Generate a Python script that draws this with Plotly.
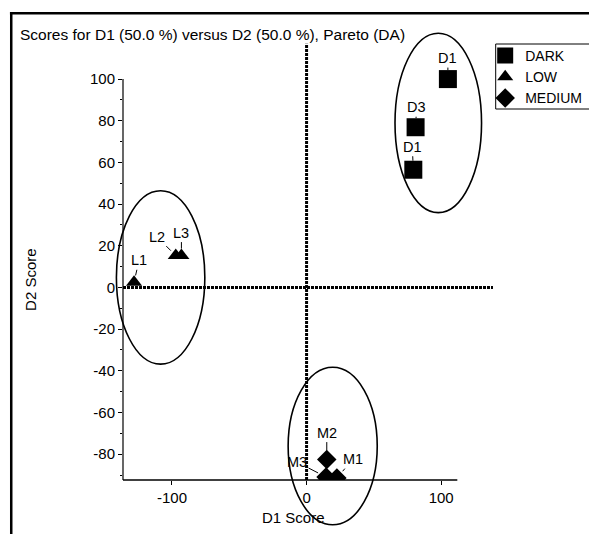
import plotly.graph_objects as go

# ---- data ----
dark_x = [105, 81, 79.3]
dark_y = [100, 76.9, 56.5]
dark_lbl = ["D1", "D3", "D1"]

low_x = [-128.2, -97.2, -93.0]
low_y = [2.5, 15.3, 15.3]
low_lbl = ["L1", "L2", "L3"]

med_x = [22.5, 15.0, 14.5]
med_y = [-91.5, -82.6, -91.0]
med_lbl = ["M1", "M2", "M3"]

y_ticks = [-80, -60, -40, -20, 0, 20, 40, 60, 80, 100]
x_ticks = [-100, 0, 100]

# group ellipses (x0, x1, y0, y1) in score units
ellipses = [(65.7, 130.0, 35.9, 122.0), (-141.3, -75.6, -36.8, 46.4), (-13.7, 52.5, -113.9, -38.3)]

X_RANGE = [-136.4, 140.0]
Y_RANGE = [-92.4, 125.0]
OFF = 8  # page body margin compensation
W, H = 597 - OFF, 534 - OFF
L, T = 123 - OFF, 27 - OFF
PW, PH = 371.8, 453.0
R = W - L - PW
B = H - T - PH
FONT = "Liberation Sans, Arial, sans-serif"


def px(x):
    return (x - X_RANGE[0]) / (X_RANGE[1] - X_RANGE[0])


def py(y):
    return (y - Y_RANGE[0]) / (Y_RANGE[1] - Y_RANGE[0])


def pgx(p):  # page pixel x -> paper
    return (p - OFF - L) / PW


def pgy(p):  # page pixel y -> paper
    return 1 - (p - OFF - T) / PH


fig = go.Figure()
fig.add_trace(go.Scatter(x=dark_x, y=dark_y, mode="markers", name="DARK",
                         marker=dict(symbol="square", size=18, color="black")))
fig.add_trace(go.Scatter(x=low_x, y=low_y, mode="markers", name="LOW",
                         marker=dict(symbol="triangle-up", size=14, color="black")))
fig.add_trace(go.Scatter(x=med_x, y=med_y, mode="markers", name="MEDIUM",
                         marker=dict(symbol="diamond", size=15, color="black")))

shapes = []
for (x0, x1, y0, y1) in ellipses:
    shapes.append(dict(type="circle", xref="paper", yref="paper",
                       x0=px(x0), x1=px(x1), y0=py(y0), y1=py(y1),
                       line=dict(color="black", width=1.6)))
# axis lines
shapes.append(dict(type="line", xref="paper", yref="paper", x0=px(-136.4), x1=px(-136.4),
                   y0=py(-92.4), y1=py(100), line=dict(color="black", width=1.2)))
shapes.append(dict(type="line", xref="paper", yref="paper", x0=px(-136.4), x1=px(112),
                   y0=py(-92.4), y1=py(-92.4), line=dict(color="black", width=1.5)))
# zero lines
shapes.append(dict(type="line", xref="paper", yref="paper", x0=px(-136.4), x1=px(138.5),
                   y0=py(0), y1=py(0), line=dict(color="black", width=3, dash="3px,1px")))
shapes.append(dict(type="line", xref="paper", yref="paper", x0=px(0), x1=px(0),
                   y0=py(-92.4), y1=py(117), line=dict(color="black", width=3, dash="3px,1px")))
# outer frame (top and left edges)
shapes.append(dict(type="line", xref="paper", yref="paper", x0=pgx(10), x1=pgx(620),
                   y0=pgy(13.3), y1=pgy(13.3), line=dict(color="black", width=2.5)))
shapes.append(dict(type="line", xref="paper", yref="paper", x0=pgx(11.3), x1=pgx(11.3),
                   y0=pgy(12), y1=pgy(560), line=dict(color="black", width=2.5)))
# legend border box
shapes.append(dict(type="rect", xref="paper", yref="paper", x0=pgx(495.5), x1=pgx(591.5),
                   y0=pgy(109), y1=pgy(44), line=dict(color="black", width=1)))

annotations = []
offsets = {
    "dark": [(0, -21), (1, -20), (-1, -23)],
    "low": [(5, -22), (-19, -19), (0, -23)],
    "med": [(16, -19), (0, -27), (-29, -15)],
}
for xs, ys, lbls, key, so in [(dark_x, dark_y, dark_lbl, "dark", 9),
                               (low_x, low_y, low_lbl, "low", 7),
                               (med_x, med_y, med_lbl, "med", 9)]:
    for x, y, t, (ax, ay) in zip(xs, ys, lbls, offsets[key]):
        annotations.append(dict(x=x, y=y, xref="x", yref="y", text=t, showarrow=True,
                                arrowhead=0, arrowwidth=1, arrowcolor="black", ax=ax, ay=ay,
                                standoff=so, font=dict(size=14.5, color="black", family=FONT)))

annotations.append(dict(text="Scores for D1 (50.0 %) versus D2 (50.0 %), Pareto (DA)",
                        xref="paper", yref="paper", x=pgx(18), y=pgy(35),
                        xanchor="left", yanchor="middle",
                        showarrow=False, font=dict(size=15.5, color="black", family=FONT)))
annotations.append(dict(text="D2 Score", xref="paper", yref="paper", x=pgx(30), y=pgy(279),
                        textangle=-90, xanchor="center", yanchor="middle",
                        showarrow=False, font=dict(size=15, color="black", family=FONT)))
annotations.append(dict(text="D1 Score", xref="paper", yref="paper", x=pgx(293), y=pgy(517),
                        xanchor="center", yanchor="middle",
                        showarrow=False, font=dict(size=15, color="black", family=FONT)))

fig.update_layout(
    width=W, height=H,
    margin=dict(l=L, r=R, t=T, b=B, pad=0, autoexpand=False),
    paper_bgcolor="white", plot_bgcolor="white",
    font=dict(family=FONT, size=15, color="black"),
    showlegend=True,
    legend=dict(x=pgx(485), y=pgy(40),
                xanchor="left", yanchor="top", borderwidth=0,
                font=dict(size=14, color="black", family=FONT), itemwidth=30,
                tracegroupgap=0, bgcolor="rgba(0,0,0,0)"),
    xaxis=dict(range=X_RANGE, tickvals=x_ticks, ticktext=[str(v) for v in x_ticks],
               showgrid=False, zeroline=False, showline=False, ticks="outside",
               ticklen=4, tickcolor="black", tickfont=dict(size=15)),
    yaxis=dict(range=Y_RANGE, tickvals=y_ticks, ticktext=[str(v) for v in y_ticks],
               showgrid=False, zeroline=False, showline=False, ticks="outside",
               ticklen=4, tickcolor="black", tickfont=dict(size=15),
               minor=dict(tickvals=[v + 10 for v in y_ticks[:-1]] + [-90], ticks="outside",
                          ticklen=2, tickcolor="black")),
    shapes=shapes,
    annotations=annotations,
)

fig.write_html("out.html")
